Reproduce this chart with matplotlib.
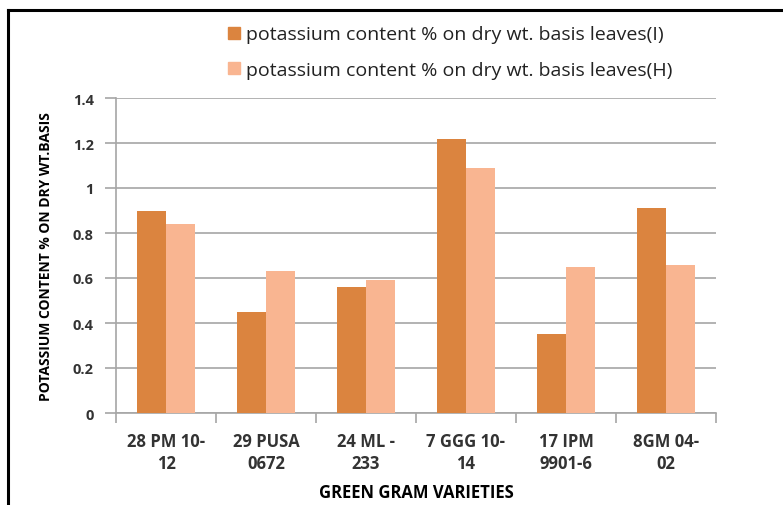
import matplotlib
matplotlib.use("Agg")
from matplotlib import pyplot as plt
from matplotlib.lines import Line2D
import numpy as np

varieties = ["28 PM 10-\n12", "29 PUSA\n0672", "24 ML -\n233", "7 GGG 10-\n14", "17 IPM\n9901-6", "8GM 04-\n02"]
leaves_i = [0.90, 0.45, 0.56, 1.22, 0.35, 0.91]
leaves_h = [0.84, 0.63, 0.59, 1.09, 0.65, 0.66]
yticks = [0, 0.2, 0.4, 0.6, 0.8, 1, 1.2, 1.4]
ytick_labels = ["0", "0.2", "0.4", "0.6", "0.8", "1", "1.2", "1.4"]
series_names = ["potassium content % on dry wt. basis leaves(I)",
                "potassium content % on dry wt. basis leaves(H)"]

col_i = "#DB843F"
col_h = "#F9B591"
grid_col = "#A6A6A6"

plt.rcParams['font.family'] = ['Open Sans', 'DejaVu Sans']

fig = plt.figure(figsize=(7.83, 5.06), dpi=100)
ax = fig.add_axes([116/783, 1 - 414/506, 600/783, 315/506])

x = np.arange(len(varieties))
w = 0.29
ax.bar(x - w/2, leaves_i, w, color=col_i, zorder=3)
ax.bar(x + w/2, leaves_h, w, color=col_h, zorder=3)

ax.set_xlim(-0.5, len(varieties) - 0.5)
ax.set_ylim(0, 1.4)
ax.set_yticks(yticks)
ax.set_yticklabels(ytick_labels, fontsize=10.5, fontweight='bold', color='#333333')
ax.yaxis.grid(True, color=grid_col, linewidth=1.2, zorder=0)
ax.set_axisbelow(True)

ax.set_xticks(np.arange(len(varieties) + 1) - 0.5, minor=False)
ax.set_xticklabels([])
ax.set_xticks(x, minor=True)
ax.set_xticklabels(varieties, minor=True, fontsize=12, fontweight='bold', color='#333333', linespacing=1.25)
ax.tick_params(axis='x', which='major', length=7, color=grid_col, width=1.2)
ax.tick_params(axis='x', which='minor', length=0, pad=14)
ax.tick_params(axis='y', length=8, color=grid_col, width=1.2, pad=8)

for s in ['top', 'right']:
    ax.spines[s].set_visible(False)
for s in ['left', 'bottom']:
    ax.spines[s].set_color(grid_col)
    ax.spines[s].set_linewidth(1.2)

ax.set_xlabel("GREEN GRAM VARIETIES", fontsize=12, fontweight='bold', labelpad=8)
ax.set_ylabel("POTASSIUM CONTENT % ON DRY WT.BASIS", fontsize=10, fontweight='bold',
              labelpad=14)

handles = [Line2D([], [], marker='s', linestyle='none', markersize=9, color=col_i),
           Line2D([], [], marker='s', linestyle='none', markersize=9, color=col_h)]
fig.legend(handles, series_names, loc='upper left', bbox_to_anchor=(206/783, 1 - 9/506),
           frameon=False, fontsize=14, labelspacing=0.9, handletextpad=0.05, handlelength=1.1,
           labelcolor='#222222')

# outer frame lines (top and left)
fig.add_artist(Line2D([8/783, 8/783], [0, 1 - 11/506], color='black', linewidth=2.2))
fig.add_artist(Line2D([8/783, 1], [1 - 11/506, 1 - 11/506], color='black', linewidth=2.2))

fig.savefig("out.png", dpi=100)
